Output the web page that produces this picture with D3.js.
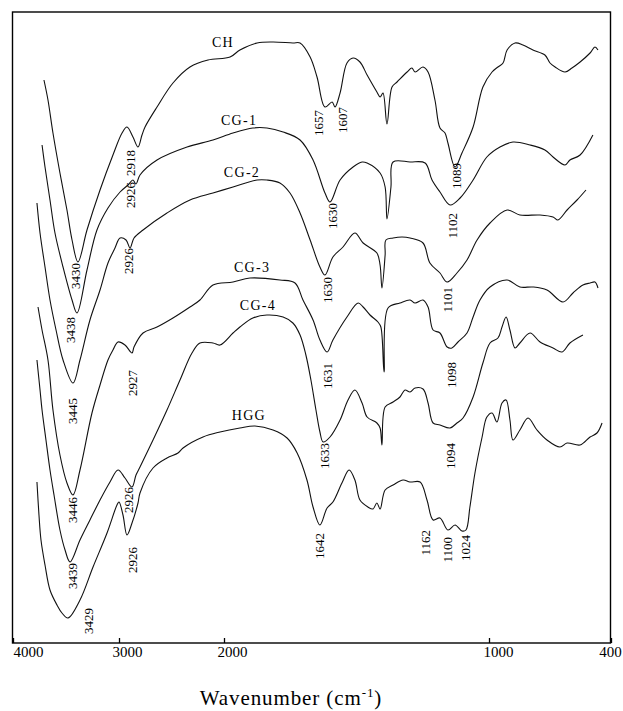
<!DOCTYPE html>
<html><head><meta charset="utf-8">
<script src="https://cdn.jsdelivr.net/npm/d3@7"></script>
<style>body{margin:0;background:#fff}svg{display:block}</style>
</head><body>
<script>
// ---- data: FTIR spectra (wavenumber cm-1, transmittance a.u. with vertical offsets) ----
const seriesNames = ["CH","CG-1","CG-2","CG-3","CG-4","HGG"];

const CH_wn = [3708,3670,3623,3557,3491,3443,3387,3302,3179,3057,2971,2924,2867,2819,2781,2752,2638,2486,2324,2152,1977,1940,1875,1815,1740,1713,1675,1649,1619,1592,1581,1562,1536,1513,1487,1460,1423,1411,1400,1385,1366,1347,1309,1291,1279,1249,1230,1204,1185,1166,1155,1128,1102,1060,1023,985,956,931,911,872,833,784,725,700,675,626,592,552,503,479,464];
const CH_t  = [563,543,510,470,433,403,381,413,453,488,510,516,506,496,508,516,536,560,576,583,586,593,600,601,600,600,586,566,536,541,536,550,580,585,581,568,551,546,550,519,556,561,571,575,571,576,571,543,515,510,500,476,490,516,556,571,576,580,593,600,598,593,588,580,576,571,575,581,590,596,593];

const CG1_wn = [3726,3698,3651,3604,3528,3443,3396,3302,3208,3104,2990,2914,2867,2838,2800,2638,2352,2105,1966,1891,1838,1777,1713,1664,1619,1600,1562,1513,1479,1460,1411,1392,1385,1370,1362,1298,1241,1215,1185,1147,1109,1060,1008,946,882,798,725,685,626,602,552,489];
const CG1_t  = [498,476,443,410,376,343,330,373,413,435,451,458,463,459,468,483,496,503,510,515,515,511,503,483,450,441,463,476,481,480,470,456,424,456,481,481,480,463,451,438,445,463,486,496,501,498,493,486,478,483,488,508];

const CG2_wn = [3774,3745,3698,3651,3594,3528,3434,3368,3274,3179,3104,3038,2990,2933,2895,2857,2771,2543,2324,2105,1966,1875,1838,1789,1751,1713,1675,1638,1619,1589,1551,1506,1475,1423,1411,1404,1392,1389,1362,1328,1298,1249,1223,1185,1158,1121,1083,1045,995,911,848,749,685,661,616,567,523];
const CG2_t  = [440,410,376,343,313,283,260,283,323,353,380,395,405,403,395,405,413,430,443,450,456,463,463,460,450,430,403,376,368,386,396,410,400,390,378,355,388,403,405,406,405,400,380,370,361,370,383,403,420,433,428,428,426,423,433,443,453];

const CG3_wn = [3764,3726,3670,3623,3557,3491,3434,3368,3255,3179,3104,3057,3009,2943,2876,2857,2771,2638,2486,2324,2229,2105,1966,1902,1789,1732,1702,1664,1638,1611,1589,1536,1494,1475,1449,1419,1408,1396,1381,1336,1298,1279,1249,1230,1211,1185,1158,1140,1117,1083,1060,1034,995,911,848,784,715,636,587,538,503,479,464];
const CG3_t  = [336,313,283,233,188,160,148,173,230,258,283,293,301,298,290,296,310,316,325,336,343,358,361,365,363,360,343,323,303,291,303,326,340,336,328,321,316,271,335,340,343,340,343,336,313,310,296,295,301,310,326,343,356,363,356,356,353,341,350,358,360,361,355];

const CG4_wn = [3774,3745,3726,3689,3651,3613,3557,3509,3462,3368,3274,3179,3085,3009,2943,2876,2838,2800,2676,2543,2419,2305,2229,2105,2038,1966,1940,1891,1838,1777,1740,1713,1691,1672,1653,1638,1626,1600,1562,1532,1506,1479,1460,1423,1411,1404,1392,1362,1336,1317,1298,1279,1249,1230,1211,1185,1147,1121,1098,1060,1023,995,956,936,916,897,872,848,798,749,685,641,602,538];
const CG4_t  = [283,253,233,203,173,148,113,93,81,103,123,143,161,173,165,156,168,176,203,233,263,290,300,300,298,310,316,325,328,326,320,308,288,263,233,211,201,206,223,243,253,240,226,220,215,198,236,241,246,253,251,255,254,240,220,218,215,220,225,246,280,300,305,316,326,313,295,300,310,301,295,291,300,308];

const HGG_wn = [3774,3755,3736,3698,3651,3585,3538,3481,3368,3245,3113,3019,3000,2962,2924,2876,2819,2800,2676,2543,2438,2390,2200,2038,1940,1883,1815,1762,1724,1687,1664,1638,1611,1589,1555,1528,1506,1487,1457,1438,1423,1411,1392,1362,1324,1298,1260,1234,1211,1185,1155,1128,1102,1087,1072,1053,1026,1008,985,961,936,916,897,882,848,808,764,715,651,616,552,503,469,444];
const HGG_t  = [161,128,103,78,53,38,30,25,43,76,110,138,141,128,108,120,140,150,175,185,190,195,206,211,215,217,213,205,190,163,136,118,135,141,160,173,163,143,136,134,140,134,153,158,163,161,161,143,123,125,113,118,112,113,136,170,206,226,230,221,240,243,223,203,213,225,213,203,196,200,198,206,210,220];

// series name labels (position in data units)
const nameWn = [2010,1943,1932,1894,1872,1906];
const nameT  = [601,523,471,376,338,228];

// peak annotations
const peakText = ["3430","2918","1657","1607","1089","3438","2926","1630","1102","3445","2926","1630","1101","3446","2927","1631","1098","3439","2926","1633","1094","3429","2926","1642","1162","1100","1024"];
const peakWn   = [3415,2895,1645,1551,1121,3462,2895,1592,1136,3434,2914,1611,1158,3443,2876,1611,1140,3443,2914,1619,1147,3292,2876,1638,1241,1158,1090];
const peakT    = [380,493,533,536,480,326,461,440,430,245,395,366,356,146,273,280,281,80,156,200,200,35,96,110,113,106,108];

// axis
const tickValues = [4000,3000,2000,1000,400];
const tickLabels = ["4000","3000","2000","1000","400"];
const axisTitle = "Wavenumber (cm";

// ---- drawing ----
const W = 623, H = 711;
const M = {left:13, right:611, top:12, bottom:643};
const svg = d3.select("body").append("svg").attr("width", W).attr("height", H);

// spectrometer axis: 4000-2000 compressed, 2000-400 expanded (as drawn)
const x = d3.scaleLinear().domain(tickValues).range([M.left, 119, 224, 489, M.right]);
const y = d3.scaleLinear().domain([0, 631]).range([M.bottom, M.top]);

const serif = "'Liberation Serif','Times New Roman',serif";

svg.append("rect")
  .attr("x", M.left - 0.5).attr("y", M.top)
  .attr("width", M.right - M.left).attr("height", M.bottom - M.top)
  .attr("fill", "none").attr("stroke", "#000").attr("stroke-width", 1.4);

const axis = d3.axisBottom(x).tickValues(tickValues)
  .tickFormat((d, i) => tickLabels[i]).tickSizeInner(-5).tickSizeOuter(0).tickPadding(3);
const gx = svg.append("g").attr("transform", `translate(0,${M.bottom})`).call(axis);
gx.select(".domain").remove();
gx.selectAll(".tick line").attr("stroke", "#000").attr("stroke-width", 1.3);
gx.selectAll(".tick text")
  .attr("fill", "#000").style("font-family", serif).style("font-size", "15px")
  .attr("text-anchor", (d, i) => i === 0 ? "start" : "middle")
  .attr("dx", (d, i) => [0, 8, 8, 9, -1][i]);

const title = svg.append("text")
  .attr("x", 291).attr("y", 705).attr("text-anchor", "middle")
  .style("font-family", serif).style("font-size", "21px").style("letter-spacing", "0.9px")
  .attr("fill", "#000");
title.append("tspan").text(axisTitle);
title.append("tspan").text("-1").style("font-size", "13px").attr("dy", -8);
title.append("tspan").text(")").attr("dy", 8);

const seriesData = [
  d3.zip(CH_wn, CH_t), d3.zip(CG1_wn, CG1_t), d3.zip(CG2_wn, CG2_t),
  d3.zip(CG3_wn, CG3_t), d3.zip(CG4_wn, CG4_t), d3.zip(HGG_wn, HGG_t)
];

const line = d3.line().x(d => x(d[0])).y(d => y(d[1])).curve(d3.curveCatmullRom.alpha(0.5));

svg.append("g").selectAll("path").data(seriesData).join("path")
  .attr("d", line).attr("fill", "none").attr("stroke", "#111")
  .attr("stroke-width", 1.1).attr("stroke-linejoin", "round");

svg.append("g").selectAll("text").data(seriesNames).join("text")
  .attr("x", (d, i) => x(nameWn[i])).attr("y", (d, i) => y(nameT[i]))
  .attr("text-anchor", "middle").attr("dominant-baseline", "central")
  .style("font-family", serif).style("font-size", "14px").style("letter-spacing", "1.3px")
  .attr("fill", "#000").text(d => d);

svg.append("g").selectAll("text").data(peakText).join("text")
  .attr("transform", (d, i) => `translate(${x(peakWn[i])},${y(peakT[i])}) rotate(-90)`)
  .attr("text-anchor", "end").attr("dominant-baseline", "central")
  .style("font-family", serif).style("font-size", "13px")
  .attr("fill", "#000").text(d => d);
</script>
</body></html>
